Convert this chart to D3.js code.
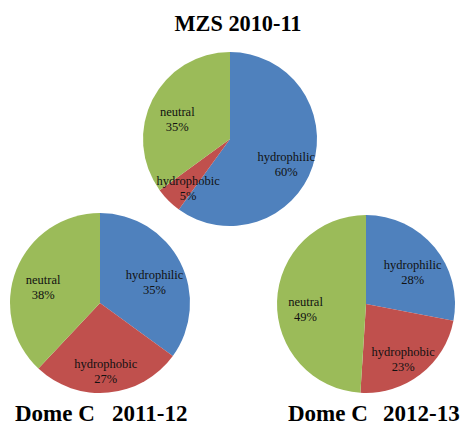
<!DOCTYPE html>
<html>
<head>
<meta charset="utf-8">
<script src="https://cdn.jsdelivr.net/npm/d3@7"></script>
<style>
  html, body { margin: 0; padding: 0; background: #fff; }
  svg { display: block; }
  text { font-family: "Liberation Serif", "Times New Roman", serif; }
</style>
</head>
<body>
<svg id="chart" width="463" height="427"></svg>
<script>
// ---- data ----
const categories = ["hydrophilic", "hydrophobic", "neutral"];
const colors = ["#4F81BD", "#C0504D", "#9BBB59"];
const mzs2010 = [60, 5, 35];
const domeC2011 = [35, 27, 38];
const domeC2012 = [28, 23, 49];
const chartTitles = ["MZS 2010-11", "Dome C", "Dome C"];
const seasons = ["", "2011-12", "2012-13"];

const svg = d3.select("#chart");
const color = d3.scaleOrdinal().domain(categories).range(colors);
const pie = d3.pie().sort(null).value(d => d.value);

const panels = [
  { values: mzs2010, cx: 230, cy: 139, r: 87 },
  { values: domeC2011, cx: 100, cy: 303, r: 90 },
  { values: domeC2012, cx: 366, cy: 304, r: 89 }
];

panels.forEach(p => {
  const data = categories.map((c, i) => ({ cat: c, value: p.values[i] }));
  const arcs = pie(data);
  const arc = d3.arc().innerRadius(0).outerRadius(p.r);
  const labelArc = d3.arc().innerRadius(p.r * 0.68).outerRadius(p.r * 0.68);
  const g = svg.append("g").attr("transform", `translate(${p.cx},${p.cy})`);
  g.selectAll("path").data(arcs).join("path")
    .attr("d", arc)
    .attr("fill", d => color(d.data.cat));
  const lab = g.selectAll("text").data(arcs).join("text")
    .attr("transform", d => { const c = labelArc.centroid(d); return `translate(${c[0]},${c[1]})`; })
    .attr("text-anchor", "middle")
    .attr("font-size", "12.5px")
    .attr("fill", "#111");
  lab.append("tspan").attr("x", 0).attr("y", 4).text(d => d.data.cat);
  lab.append("tspan").attr("x", 0).attr("y", 19).text(d => d.data.value + "%");
});

// titles
svg.append("text").attr("x", 238).attr("y", 31).attr("text-anchor", "middle")
  .attr("font-weight", "bold").attr("font-size", "24px")
  .attr("textLength", 127).attr("lengthAdjust", "spacingAndGlyphs")
  .text(chartTitles[0]);

[[15, 112, 1], [288, 383, 2]].forEach(([x1, x2, i]) => {
  svg.append("text").attr("x", x1).attr("y", 421)
    .attr("font-weight", "bold").attr("font-size", "23px")
    .text(chartTitles[i]);
  svg.append("text").attr("x", x2).attr("y", 421)
    .attr("font-weight", "bold").attr("font-size", "23px")
    .text(seasons[i]);
});
</script>
</body>
</html>
